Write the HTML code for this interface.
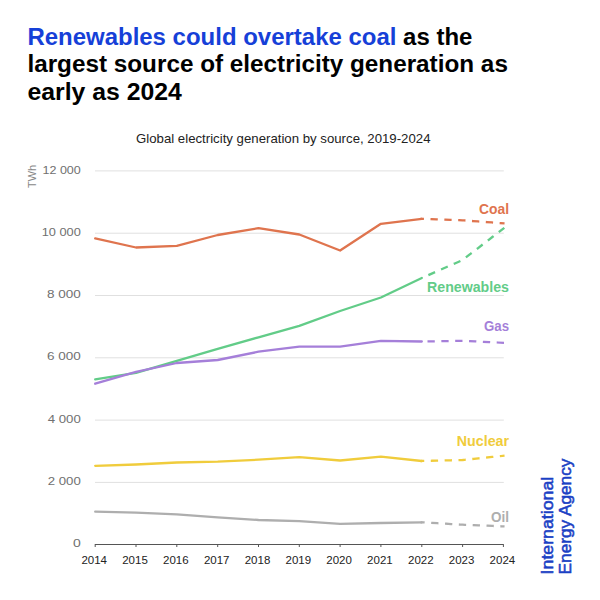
<!DOCTYPE html>
<html><head><meta charset="utf-8">
<style>
html,body{margin:0;padding:0;background:#fff;}
body{width:600px;height:600px;position:relative;overflow:hidden;}
svg{position:absolute;left:0;top:0;font-family:"Liberation Sans",sans-serif;}
.ti{font-size:23px;font-weight:bold;fill:#000;}
.yl{font-size:11.3px;fill:#707070;}
.xl{font-size:11.5px;fill:#222;}
.sl{font-size:14px;font-weight:bold;}
</style></head><body>
<svg width="600" height="600" viewBox="0 0 600 600">
<text class="ti" x="27.4" y="44.5" textLength="445" lengthAdjust="spacingAndGlyphs"><tspan fill="#1640D8">Renewables could overtake coal</tspan> as the</text>
<text class="ti" x="27.4" y="72.2" textLength="480.5" lengthAdjust="spacingAndGlyphs">largest source of electricity generation as</text>
<text class="ti" x="27.4" y="99.8" textLength="154.5" lengthAdjust="spacingAndGlyphs">early as 2024</text>
<text x="136" y="143.2" font-size="13.3" fill="#222" textLength="294.5" lengthAdjust="spacingAndGlyphs">Global electricity generation by source, 2019-2024</text>
<text transform="translate(36.2,188) rotate(-90)" font-size="11" fill="#888">TWh</text>
<line x1="95" x2="503.8" y1="170.9" y2="170.9" stroke="#E0E0E0" stroke-width="1"/>
<line x1="95" x2="503.8" y1="233.2" y2="233.2" stroke="#E0E0E0" stroke-width="1"/>
<line x1="95" x2="503.8" y1="295.5" y2="295.5" stroke="#E0E0E0" stroke-width="1"/>
<line x1="95" x2="503.8" y1="357.8" y2="357.8" stroke="#E0E0E0" stroke-width="1"/>
<line x1="95" x2="503.8" y1="420.1" y2="420.1" stroke="#E0E0E0" stroke-width="1"/>
<line x1="95" x2="503.8" y1="482.4" y2="482.4" stroke="#E0E0E0" stroke-width="1"/>
<line x1="94.8" x2="503.8" y1="544.5" y2="544.5" stroke="#555" stroke-width="1"/>
<line x1="95.2" x2="95.2" y1="544.5" y2="547" stroke="#555" stroke-width="1"/>
<line x1="136.0" x2="136.0" y1="544.5" y2="547" stroke="#555" stroke-width="1"/>
<line x1="176.8" x2="176.8" y1="544.5" y2="547" stroke="#555" stroke-width="1"/>
<line x1="217.7" x2="217.7" y1="544.5" y2="547" stroke="#555" stroke-width="1"/>
<line x1="258.5" x2="258.5" y1="544.5" y2="547" stroke="#555" stroke-width="1"/>
<line x1="299.3" x2="299.3" y1="544.5" y2="547" stroke="#555" stroke-width="1"/>
<line x1="340.1" x2="340.1" y1="544.5" y2="547" stroke="#555" stroke-width="1"/>
<line x1="380.9" x2="380.9" y1="544.5" y2="547" stroke="#555" stroke-width="1"/>
<line x1="421.8" x2="421.8" y1="544.5" y2="547" stroke="#555" stroke-width="1"/>
<line x1="462.6" x2="462.6" y1="544.5" y2="547" stroke="#555" stroke-width="1"/>
<line x1="503.4" x2="503.4" y1="544.5" y2="547" stroke="#555" stroke-width="1"/>
<polyline points="95.2,238.3 136.0,247.5 176.8,245.8 217.7,235.0 258.5,228.2 299.3,234.5 340.1,250.5 380.9,223.8 421.8,218.8" fill="none" stroke="#DF744E" stroke-width="2.3" stroke-linejoin="round" stroke-linecap="round"/>
<polyline points="421.8,218.8 462.6,220.3 503.4,223.3" fill="none" stroke="#DF744E" stroke-width="2.3" stroke-dasharray="5.00 8.85" stroke-dashoffset="4.00" stroke-linejoin="round" stroke-linecap="square"/>
<polyline points="95.2,379.3 136.0,372.8 176.8,360.8 217.7,348.8 258.5,337.3 299.3,325.8 340.1,311.0 380.9,297.5 421.8,278.0" fill="none" stroke="#62CC88" stroke-width="2.3" stroke-linejoin="round" stroke-linecap="round"/>
<polyline points="421.8,278.0 462.6,260.0 503.4,228.5" fill="none" stroke="#62CC88" stroke-width="2.3" stroke-dasharray="5.00 8.85" stroke-dashoffset="5.50" stroke-linejoin="round" stroke-linecap="square"/>
<polyline points="95.2,383.7 136.0,371.9 176.8,363.0 217.7,360.0 258.5,351.7 299.3,346.7 340.1,346.7 380.9,340.8 421.8,341.5" fill="none" stroke="#A57FD9" stroke-width="2.3" stroke-linejoin="round" stroke-linecap="round"/>
<polyline points="421.8,341.5 462.6,340.8 503.4,342.8" fill="none" stroke="#A57FD9" stroke-width="2.3" stroke-dasharray="5.00 8.85" stroke-dashoffset="7.00" stroke-linejoin="round" stroke-linecap="square"/>
<polyline points="95.2,465.8 136.0,464.5 176.8,462.5 217.7,461.7 258.5,459.7 299.3,457.2 340.1,460.5 380.9,456.7 421.8,461.0" fill="none" stroke="#F0CC3C" stroke-width="2.3" stroke-linejoin="round" stroke-linecap="round"/>
<polyline points="421.8,461.0 462.6,460.0 503.4,455.8" fill="none" stroke="#F0CC3C" stroke-width="2.3" stroke-dasharray="5.00 8.85" stroke-dashoffset="3.70" stroke-linejoin="round" stroke-linecap="square"/>
<polyline points="95.2,511.7 136.0,512.6 176.8,514.4 217.7,517.4 258.5,520.0 299.3,521.2 340.1,523.9 380.9,523.0 421.8,522.3" fill="none" stroke="#AEAEAE" stroke-width="2.3" stroke-linejoin="round" stroke-linecap="round"/>
<polyline points="421.8,522.3 462.6,524.7 503.4,526.4" fill="none" stroke="#AEAEAE" stroke-width="2.3" stroke-dasharray="5.00 8.85" stroke-dashoffset="3.30" stroke-linejoin="round" stroke-linecap="square"/>
<text x="42.5" y="173.5" textLength="38.3" lengthAdjust="spacingAndGlyphs" class="yl">12 000</text>
<text x="41.7" y="235.8" textLength="39.1" lengthAdjust="spacingAndGlyphs" class="yl">10 000</text>
<text x="47.0" y="298.1" textLength="33.8" lengthAdjust="spacingAndGlyphs" class="yl">8 000</text>
<text x="47.0" y="360.4" textLength="33.8" lengthAdjust="spacingAndGlyphs" class="yl">6 000</text>
<text x="47.7" y="422.7" textLength="33.1" lengthAdjust="spacingAndGlyphs" class="yl">4 000</text>
<text x="47.7" y="485.0" textLength="33.1" lengthAdjust="spacingAndGlyphs" class="yl">2 000</text>
<text x="73.0" y="546.8" textLength="7.8" lengthAdjust="spacingAndGlyphs" class="yl">0</text>
<text x="94.2" y="563.8" text-anchor="middle" class="xl">2014</text>
<text x="135.0" y="563.8" text-anchor="middle" class="xl">2015</text>
<text x="175.8" y="563.8" text-anchor="middle" class="xl">2016</text>
<text x="216.7" y="563.8" text-anchor="middle" class="xl">2017</text>
<text x="257.5" y="563.8" text-anchor="middle" class="xl">2018</text>
<text x="298.3" y="563.8" text-anchor="middle" class="xl">2019</text>
<text x="339.1" y="563.8" text-anchor="middle" class="xl">2020</text>
<text x="379.9" y="563.8" text-anchor="middle" class="xl">2021</text>
<text x="420.8" y="563.8" text-anchor="middle" class="xl">2022</text>
<text x="461.6" y="563.8" text-anchor="middle" class="xl">2023</text>
<text x="502.4" y="563.8" text-anchor="middle" class="xl">2024</text>
<text x="479.0" y="213.9" textLength="30" lengthAdjust="spacingAndGlyphs" class="sl" fill="#DF744E">Coal</text>
<text x="427.0" y="291.6" textLength="82" lengthAdjust="spacingAndGlyphs" class="sl" fill="#62CC88">Renewables</text>
<text x="484.0" y="330.7" textLength="25" lengthAdjust="spacingAndGlyphs" class="sl" fill="#A57FD9">Gas</text>
<text x="456.8" y="446.3" textLength="52.2" lengthAdjust="spacingAndGlyphs" class="sl" fill="#F0CC3C">Nuclear</text>
<text x="491.0" y="522" textLength="18" lengthAdjust="spacingAndGlyphs" class="sl" fill="#AEAEAE">Oil</text>
<g fill="#1B40C4" stroke="#1B40C4" stroke-width="0.55" font-size="16.7">
<text transform="translate(552.9,574.4) rotate(-90)" textLength="97.6" lengthAdjust="spacingAndGlyphs">International</text>
<text transform="translate(570.6,574.4) rotate(-90)" textLength="115.8" lengthAdjust="spacingAndGlyphs">Energy Agency</text>
</g>
</svg>
</body></html>
